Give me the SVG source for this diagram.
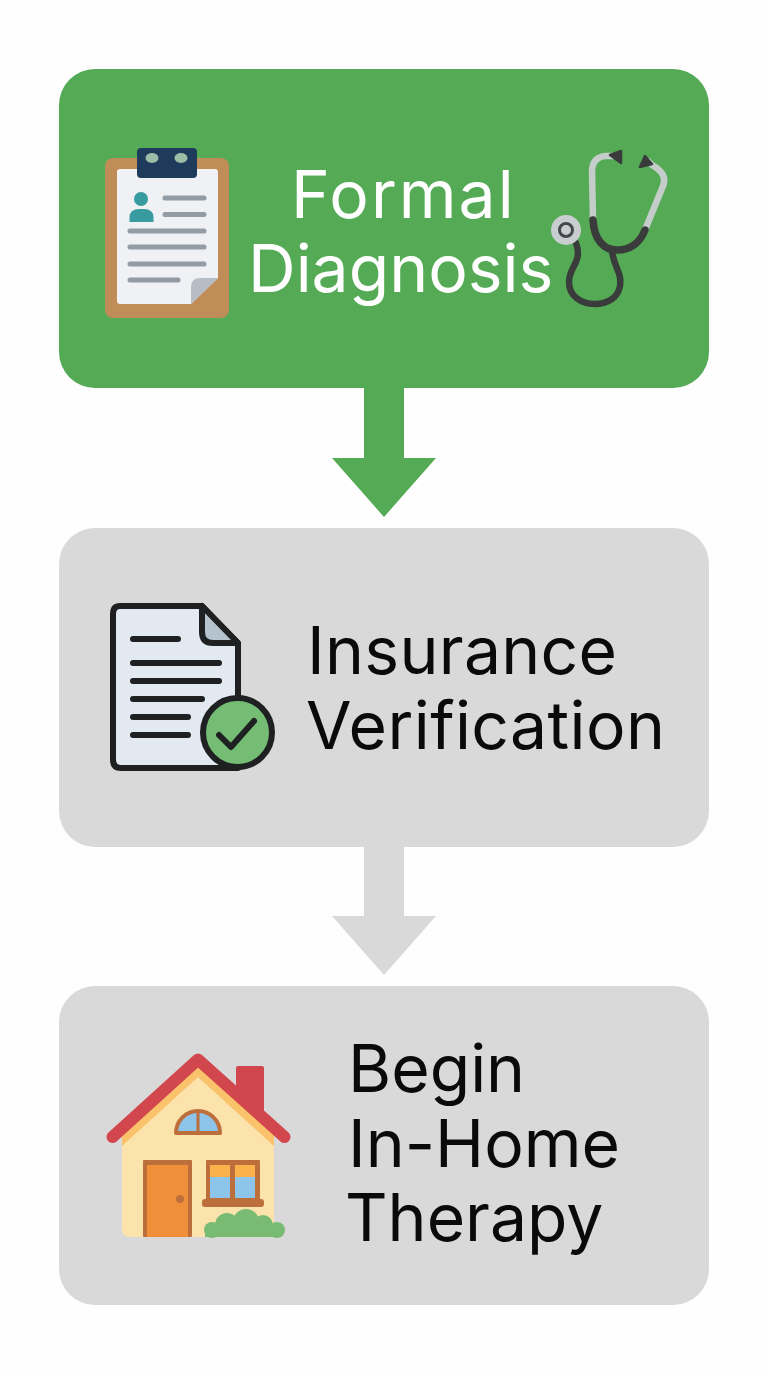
<svg xmlns="http://www.w3.org/2000/svg" width="768" height="1376" viewBox="0 0 768 1376">
<style>
.t{font-family:"Inter","Liberation Sans",sans-serif;font-size:66px;font-weight:400}
.w{fill:#fff}.k{fill:#0a0a0a}
.gl{stroke:#939ba5;stroke-width:5;stroke-linecap:round;fill:none}
.dl{stroke:#1f2021;stroke-width:6;stroke-linecap:round;fill:none}
.br{fill:#bc6f3a}
</style>
<rect width="768" height="1376" fill="#fefefe"/>
<g id="connectors">
<path d="M364 380H404V458H436L384 517L332 458H364Z" fill="#55ab55"/>
<path d="M364 840H404V916H436L384 975L332 916H364Z" fill="#d9d9d9"/>
</g>
<g id="formal-diagnosis">
<rect x="59" y="69" width="650" height="319" rx="36" fill="#55ab55"/>
<g id="clipboard-icon">
<rect x="105" y="158" width="124" height="160" rx="8" fill="#c08d58"/>
<path d="M120 169H215a3 3 0 0 1 3 3V278L191 304H120a3 3 0 0 1-3-3V172a3 3 0 0 1 3-3Z" fill="#eff1f4"/>
<path d="M218 278L191 304V287Q191 278 200 278Z" fill="#b6bdc4"/>
<rect x="137" y="148" width="60" height="30" rx="4" fill="#1f3b5c"/>
<ellipse cx="152" cy="158" rx="6.500" ry="5" fill="#9dbda6"/>
<ellipse cx="181" cy="158" rx="6.500" ry="5" fill="#9dbda6"/>
<circle cx="141" cy="199" r="7" fill="#379b9f"/>
<path d="M129.500 222V217Q130 209 139 209H144Q153 209 153.500 217V222Z" fill="#379b9f"/>
<path class="gl" d="M165 198H204M165 214.500H204M130 231H204M130 247H204M130 264H204M130 280H178"/>
</g>
<g id="stethoscope-icon" fill="none">
<path d="M593 220L592 172Q592 157 606 156H614M647 160L652 165Q668 174 663 186L645 230" stroke="#c4cdc9" stroke-width="6.500"/>
<path d="M593 220C594 240 604 250 617 250C630 250 640 243 645 230" stroke="#3a3c3b" stroke-width="7.500" stroke-linecap="round"/>
<path d="M612 251C614 268 622 272 620 286C618 298 607 304 595 304C581 304 569 296 569 282C569 266 583 262 576 243" stroke="#3a3c3b" stroke-width="6.500" stroke-linecap="round"/>
<path d="M610 155L621 151L621 163Z" fill="#3a3c3b" stroke="#3a3c3b" stroke-width="2.500" stroke-linejoin="round"/>
<path d="M645 156L640 167L652 164Z" fill="#3a3c3b" stroke="#3a3c3b" stroke-width="2.500" stroke-linejoin="round"/>
<circle cx="566" cy="230" r="15" fill="#c8ced0"/>
<circle cx="566" cy="230" r="6.500" fill="#c8ced0" stroke="#45474c" stroke-width="3"/>
</g>
<text class="t w" x="291" y="217.500" letter-spacing="2">Formal</text>
<text class="t w" x="248" y="292">Diagnosis</text>
</g>
<g id="insurance-verification">
<rect x="59" y="528" width="650" height="319" rx="36" fill="#d9d9d9"/>
<g id="document-icon">
<path d="M120 606H202L238 643V768H121Q113 768 113 760V614Q113 606 120 606Z" fill="#e2e9f0" stroke="#1f2021" stroke-width="6" stroke-linejoin="round"/>
<path d="M202 606V632Q202 643 213 643H238Z" fill="#b5c3ce" stroke="#1f2021" stroke-width="6" stroke-linejoin="round"/>
<path class="dl" d="M133 639H178M133 663H219M133 681H219M133 699H202M133 717H188M133 735H188"/>
<circle cx="237.500" cy="732.500" r="34.500" fill="#75bd75" stroke="#1f2021" stroke-width="6"/>
<path d="M219 735L231 747L254 721" fill="none" stroke="#1f2021" stroke-width="6" stroke-linecap="round" stroke-linejoin="round"/>
</g>
<text class="t k" x="307" y="674" letter-spacing="0.300">Insurance</text>
<text class="t k" x="306" y="749" letter-spacing="0.400">Verification</text>
</g>
<g id="begin-in-home-therapy">
<rect x="59" y="986" width="650" height="319" rx="36" fill="#d9d9d9"/>
<g id="house-icon">
<rect x="236" y="1066" width="28" height="50" rx="2" fill="#d2474e"/>
<path d="M122 1143L198 1077L274 1143V1237H130Q122 1237 122 1229Z" fill="#fbe3ab"/>
<path d="M122 1134L198 1066L274 1134V1146L198 1077L122 1146Z" fill="#f9c26b"/>
<path d="M112.500 1137L198 1059.500L284.500 1137" fill="none" stroke="#d2474e" stroke-width="12" stroke-linecap="round" stroke-linejoin="round"/>
<path d="M176 1133A22 22 0 0 1 220 1133Z" fill="#8cc4ea" stroke="#bc6f3a" stroke-width="4" stroke-linejoin="round"/>
<path d="M198 1110V1133" stroke="#bc6f3a" stroke-width="3"/>
<rect class="br" x="143" y="1160" width="49" height="77" rx="1"/>
<rect x="147" y="1165" width="41" height="72" fill="#f08e3a"/>
<circle class="br" cx="180" cy="1199" r="4"/>
<rect class="br" x="206" y="1160" width="54" height="42" rx="1"/>
<rect x="210" y="1165" width="20" height="12" fill="#fbb24d"/>
<rect x="235" y="1165" width="20" height="12" fill="#fbb24d"/>
<rect x="210" y="1177" width="20" height="21" fill="#8cc4ea"/>
<rect x="235" y="1177" width="20" height="21" fill="#8cc4ea"/>
<rect class="br" x="202" y="1199" width="62" height="8" rx="3"/>
<g fill="#7abb74">
<circle cx="212" cy="1230" r="8"/><circle cx="227" cy="1225" r="12"/><circle cx="246" cy="1222" r="13"/><circle cx="263" cy="1225" r="10"/><circle cx="277" cy="1230" r="8"/>
<rect x="205" y="1226" width="72" height="11"/>
</g>
</g>
<text class="t k" x="348" y="1091.500">Begin</text>
<text class="t k" x="348" y="1166.500">In-Home</text>
<text class="t k" x="345" y="1241">Therapy</text>
</g>
</svg>
